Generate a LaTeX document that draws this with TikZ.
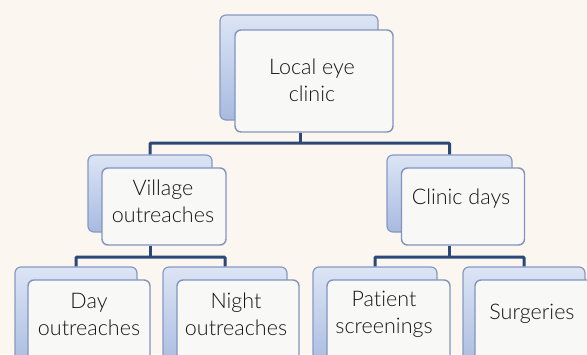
\documentclass[tikz,border=0pt]{standalone}
\usepackage{fontspec}
\setmainfont{Lato Light}[Ligatures=NoCommon]
\usetikzlibrary{calc}
\definecolor{bgc}{HTML}{FBF6F0}
\definecolor{backtop}{HTML}{DCE5F5}
\definecolor{backbot}{HTML}{A7BADF}
\definecolor{backedge}{HTML}{8799C3}
\definecolor{frontfill}{HTML}{F8F8F6}
\definecolor{frontedge}{HTML}{8393BC}
\definecolor{conncol}{HTML}{2C4876}
\definecolor{txt}{HTML}{141414}
\tikzset{
  backbox/.style={draw=backedge, line width=1.2pt, rounded corners=6pt,
    top color=backtop, bottom color=backbot, inner sep=0pt},
  frontbox/.style={draw=frontedge, line width=1.4pt, rounded corners=6pt,
    fill=frontfill, inner sep=0pt},
  lbl/.style={text=txt, align=center, font=\fontsize{21.5}{27}\selectfont, inner sep=0pt},
  conn/.style={draw=conncol, line width=3pt}
}
\begin{document}
\begin{tikzpicture}[x=1pt,y=-1pt]
\useasboundingbox (0,0) rectangle (587,354);
\fill[bgc] (0,0) rectangle (587,354);
\begin{scope}
\clip (0,0) rectangle (587,354);
% top
\node[backbox, minimum width=158pt, minimum height=105pt] (tb) at (299,67.5) {};
\node[frontbox, minimum width=158pt, minimum height=102pt] (tf) at (314,81) {};
\node[lbl] (tt) at (312,80) {Local eye\\clinic};
% level 2
\node[backbox, minimum width=124pt, minimum height=77pt] (vb) at (150,193.5) {};
\node[frontbox, minimum width=124pt, minimum height=77pt] (vf) at (164,206.5) {};
\node[lbl] (vt) at (163,201) {Village\\outreaches};
\node[backbox, minimum width=125pt, minimum height=77pt] (cb) at (449.5,193.5) {};
\node[frontbox, minimum width=123pt, minimum height=77pt] (cf) at (463,206.5) {};
\node[lbl] (ct) at (461,199) {Clinic days};
% level 3
\node[backbox, minimum width=122pt, minimum height=103pt] (db) at (76,318.5) {};
\node[frontbox, minimum width=122pt, minimum height=90pt] (df) at (89,325) {};
\node[lbl] (dt) at (89,314) {Day\\outreaches};
\node[backbox, minimum width=124pt, minimum height=103pt] (nb) at (225,318.5) {};
\node[frontbox, minimum width=122pt, minimum height=90pt] (nf) at (238,325) {};
\node[lbl] (nt) at (236,314) {Night\\outreaches};
\node[backbox, minimum width=124pt, minimum height=103pt] (pb) at (375,318.5) {};
\node[frontbox, minimum width=123pt, minimum height=90pt] (pf) at (388.5,325) {};
\node[lbl] (pt) at (384,314) {Patient\\screenings};
\node[backbox, minimum width=122pt, minimum height=103pt] (sb) at (524,318.5) {};
\node[frontbox, minimum width=122pt, minimum height=90pt] (sf) at (536,325) {};
\node[lbl] (st) at (532,314) {Surgeries};
\end{scope}
% connectors
\coordinate (tj) at (300,143);
\coordinate (vj) at (150.5,257);
\coordinate (cj) at (449.5,257);
\draw[conn] (tf.south -| tj) -- (tj);
\draw[conn, rounded corners=1pt] (vb.north) -- (vb.north |- tj) -- (cb.north |- tj) -- (cb.north);
\draw[conn] (vf.south -| vj) -- (vj);
\draw[conn, rounded corners=1pt] (db.north) -- (db.north |- vj) -- (nb.north |- vj) -- (nb.north);
\draw[conn] (cf.south -| cj) -- (cj);
\draw[conn, rounded corners=1pt] (pb.north) -- (pb.north |- cj) -- (sb.north |- cj) -- (sb.north);
\end{tikzpicture}
\end{document}
